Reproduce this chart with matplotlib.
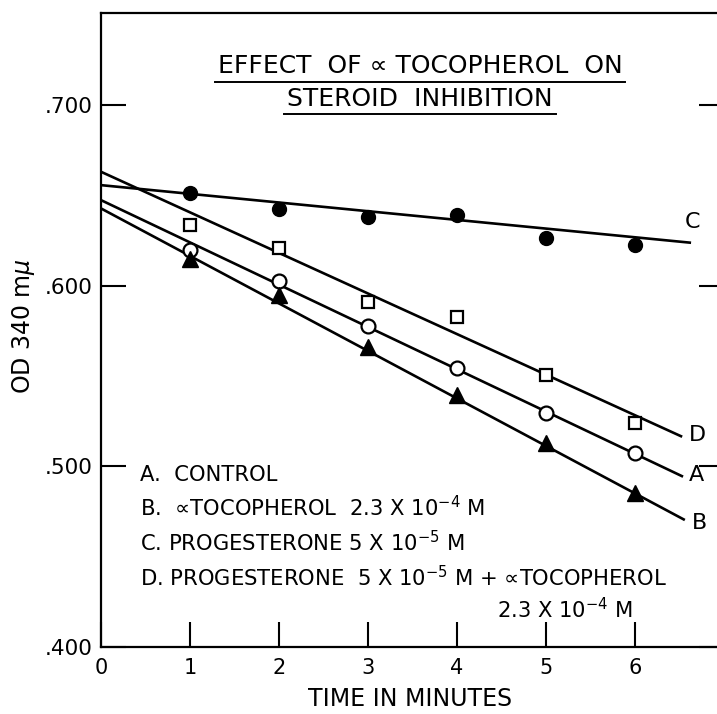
import matplotlib
matplotlib.use("Agg")
import matplotlib.pyplot as plt
from matplotlib.lines import Line2D

plt.rcParams['font.family'] = ['DejaVu Sans']
plt.rcParams['mathtext.fontset'] = 'dejavusans'

# ---- data ----
time = [1, 2, 3, 4, 5, 6]
od_A = [0.6197, 0.6027, 0.5777, 0.5543, 0.5294, 0.5075]   # control (open circles)
od_B = [0.6146, 0.5948, 0.5659, 0.5395, 0.5131, 0.4852]   # alpha tocopherol (filled triangles)
od_C = [0.6511, 0.6424, 0.6382, 0.6391, 0.6262, 0.6225]   # progesterone (filled circles)
od_D = [0.6336, 0.6207, 0.5911, 0.5828, 0.5506, 0.5238]   # progesterone + tocopherol (open squares)

# fitted lines: (x start, y start, x end, y end)
fit_A = [0.0, 0.6474, 6.54, 0.4943]
fit_B = [0.0, 0.6428, 6.56, 0.4703]
fit_C = [0.0, 0.6557, 6.63, 0.6238]
fit_D = [0.0, 0.6631, 6.53, 0.5164]

yticks = [0.4, 0.5, 0.6, 0.7]
ytick_labels = ['.400', '.500', '.600', '.700']
xticks = [0, 1, 2, 3, 4, 5, 6]
xtick_labels = ['0', '1', '2', '3', '4', '5', '6']

legend_lines = ['A.  CONTROL',
                r'B.  ∝TOCOPHEROL  2.3 X 10$^{-4}$ M',
                r'C. PROGESTERONE 5 X 10$^{-5}$ M',
                r'D. PROGESTERONE  5 X 10$^{-5}$ M + ∝TOCOPHEROL']
legend_extra = r'2.3 X 10$^{-4}$ M'
title_lines = ['EFFECT  OF ∝ TOCOPHEROL  ON', 'STEROID  INHIBITION']

# ---- figure ----
W, H = 717, 714
fig = plt.figure(figsize=(W / 100, H / 100), dpi=100)
ax = fig.add_axes([101 / W, (H - 647) / H, 7.0 * 89 / W, (647 - 13) / H])
ax.set_xlim(0, 7.0)
ax.set_ylim(0.4, 0.751)

lw = 1.9
for f in (fit_A, fit_B, fit_C, fit_D):
    ax.plot([f[0], f[2]], [f[1], f[3]], color='black', lw=lw, solid_capstyle='butt', zorder=2)

ax.plot(time, od_C, 'o', color='black', ms=10, zorder=3)
ax.plot(time, od_A, 'o', mfc='white', mec='black', mew=1.6, ms=10, zorder=3)
ax.plot(time, od_D, 's', mfc='white', mec='black', mew=1.6, ms=8.5, zorder=3)
ax.plot(time, od_B, '^', color='black', ms=11.5, zorder=3)

for sp in ('left', 'bottom', 'top'):
    ax.spines[sp].set_linewidth(1.6)
ax.spines['right'].set_visible(False)

ax.set_xticks(xticks)
ax.set_xticklabels(xtick_labels)
ax.set_yticks(yticks)
ax.set_yticklabels(ytick_labels)
ax.tick_params(axis='both', direction='in', length=18, width=1.5)
ax.tick_params(axis='x', top=False, labelsize=15, pad=8)
ax.tick_params(axis='y', right=True, labelright=False, labelsize=15.5, pad=6)

fig.text(410 / W, 1 - 699 / H, 'TIME IN MINUTES', fontsize=17, ha='center', va='center')
fig.text(24 / W, 1 - 326 / H, r'OD 340 m$\mu$', fontsize=17, rotation=90,
         ha='center', va='center')

# line-end labels
ax.text(6.56, 0.6352, 'C', fontsize=16, ha='left', va='center')
ax.text(6.61, 0.5173, 'D', fontsize=16, ha='left', va='center')
ax.text(6.61, 0.4952, 'A', fontsize=16, ha='left', va='center')
ax.text(6.64, 0.4686, 'B', fontsize=16, ha='left', va='center')

# legend text
leg_y = [0.4952, 0.4769, 0.4576, 0.4382]
for t, yy in zip(legend_lines, leg_y):
    ax.text(0.44, yy, t, fontsize=15.2, ha='left', va='center')
ax.text(4.45, 0.4205, legend_extra, fontsize=15.2, ha='left', va='center')

# title with underlines
fig.canvas.draw()
renderer = fig.canvas.get_renderer()
title_y = [66, 99]
ul_y = [82, 114]
for t, ty, uy in zip(title_lines, title_y, ul_y):
    txt = fig.text(420 / W, 1 - ty / H, t, fontsize=18, ha='center', va='center')
    bb = txt.get_window_extent(renderer)
    fig.add_artist(Line2D([(bb.x0 - 3) / W, (bb.x1 + 3) / W], [1 - uy / H, 1 - uy / H],
                          transform=fig.transFigure, color='black', lw=1.4))

fig.savefig('out.png', dpi=100)
